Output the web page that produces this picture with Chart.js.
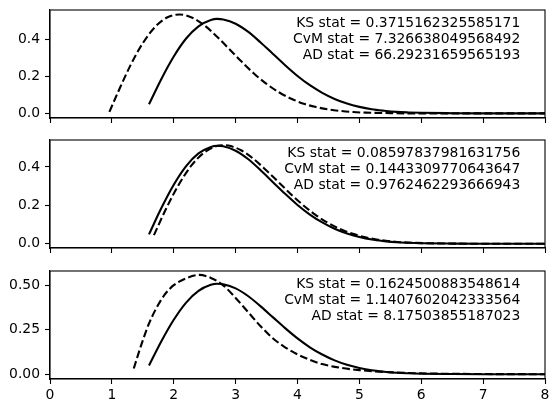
<!DOCTYPE html>
<html>
<head>
<meta charset="utf-8">
<script src="https://cdn.jsdelivr.net/npm/chart.js@4.4.1/dist/chart.umd.min.js"></script>
<style>
  html, body { margin: 0; padding: 0; background: #fff; }
  #wrap { position: relative; width: 560px; height: 413px; }
  canvas { position: absolute; left: 0; }
</style>
</head>
<body>
<div id="wrap">
  <canvas id="p1" width="560" height="130" style="top:0px;width:560px;height:130px"></canvas>
  <canvas id="p2" width="560" height="130" style="top:130px;width:560px;height:130px"></canvas>
  <canvas id="p3" width="560" height="153" style="top:260px;width:560px;height:153px"></canvas>
</div>
<script>
  // shared x axis
  const xTicks = [0, 1, 2, 3, 4, 5, 6, 7, 8];

  // reference density (solid, same in every panel)
  const trueX = [1.6, 1.8, 2.0, 2.2, 2.4, 2.6, 2.7, 2.8, 3.0, 3.2, 3.4, 3.6, 3.8, 4.0, 4.2, 4.4, 4.6, 4.8, 5.0, 5.2, 5.4, 5.6, 5.8, 6.0, 6.5, 7.0, 7.5, 8.0];
  const trueY = [0.049, 0.186, 0.307, 0.404, 0.470, 0.504, 0.510, 0.507, 0.484, 0.441, 0.384, 0.322, 0.260, 0.202, 0.152, 0.111, 0.078, 0.053, 0.035, 0.022, 0.014, 0.008, 0.005, 0.003, 0.001, 0.000, 0.000, 0.000];

  // fitted densities (dashed)
  const fit1X = [0.96, 1.1, 1.3, 1.5, 1.7, 1.9, 2.1, 2.3, 2.5, 2.7, 2.9, 3.1, 3.3, 3.5, 3.7, 3.9, 4.1, 4.3, 4.5, 4.7, 4.9, 5.1, 5.4, 5.8, 6.5, 7.0, 8.0];
  const fit1Y = [0.008, 0.115, 0.259, 0.379, 0.467, 0.519, 0.534, 0.516, 0.474, 0.414, 0.346, 0.278, 0.214, 0.159, 0.114, 0.079, 0.052, 0.034, 0.021, 0.013, 0.007, 0.004, 0.002, 0.000, 0.000, 0.000, 0.000];

  const fit2X = [1.68, 1.88, 2.08, 2.28, 2.48, 2.68, 2.78, 2.88, 3.08, 3.28, 3.48, 3.68, 3.88, 4.08, 4.28, 4.48, 4.68, 4.88, 5.08, 5.28, 5.48, 5.68, 5.88, 6.08, 6.5, 7.0, 7.5, 8.0];
  const fit2Y = [0.045, 0.185, 0.307, 0.405, 0.472, 0.507, 0.513, 0.511, 0.488, 0.444, 0.387, 0.325, 0.262, 0.204, 0.153, 0.111, 0.078, 0.053, 0.035, 0.022, 0.014, 0.008, 0.005, 0.003, 0.001, 0.000, 0.000, 0.000];

  const fit3X = [1.354, 1.42, 1.5, 1.6, 1.7, 1.85, 2.0, 2.2, 2.415, 2.6, 2.8, 3.0, 3.2, 3.4, 3.6, 3.8, 4.0, 4.2, 4.4, 4.7, 5.0, 5.4, 6.0, 7.0, 8.0];
  const fit3Y = [0.032, 0.106, 0.191, 0.286, 0.360, 0.447, 0.502, 0.541, 0.560, 0.543, 0.501, 0.430, 0.351, 0.272, 0.203, 0.152, 0.112, 0.081, 0.057, 0.036, 0.023, 0.013, 0.005, 0.001, 0.000];

  // y ticks
  const yTicksA = [0, 0.2, 0.4];
  const yLabelsA = ['0.0', '0.2', '0.4'];
  const yTicksB = [0, 0.25, 0.5];
  const yLabelsB = ['0.00', '0.25', '0.50'];

  // test statistics text
  const stats1 = ['KS stat = 0.3715162325585171', 'CvM stat = 7.326638049568492', 'AD stat = 66.29231659565193'];
  const stats2 = ['KS stat = 0.08597837981631756', 'CvM stat = 0.1443309770643647', 'AD stat = 0.9762462293666943'];
  const stats3 = ['KS stat = 0.1624500883548614', 'CvM stat = 1.1407602042333564', 'AD stat = 8.17503855187023'];

  const FONT = { family: 'DejaVu Sans', size: 13.9 };

  // box round the axes + the stats text in the upper right corner
  const frameAndText = {
    id: 'frameAndText',
    afterDraw(chart, args, opts) {
      const ctx = chart.ctx;
      const a = chart.chartArea;
      ctx.save();
      ctx.strokeStyle = '#000';
      ctx.lineWidth = 1.1;
      ctx.strokeRect(a.left, a.top, a.right - a.left, a.bottom - a.top);
      ctx.font = '13.9px "DejaVu Sans"';
      ctx.fillStyle = '#000';
      ctx.textAlign = 'right';
      ctx.textBaseline = 'middle';
      const x = a.left + 0.95 * (a.right - a.left);
      const y0 = a.top + 0.05 * (a.bottom - a.top) + 8;
      opts.lines.forEach((t, i) => ctx.fillText(t, x, y0 + i * 16.2));
      ctx.restore();
    }
  };

  function toPoints(xs, ys) {
    return xs.map((x, i) => ({ x: x, y: ys[i] }));
  }

  function makePanel(id, fitX, fitY, yMin, yMax, yTicks, yLabels, stats, showX, padTop, xHeight) {
    return new Chart(document.getElementById(id), {
      type: 'line',
      data: {
        datasets: [
          {
            data: toPoints(trueX, trueY),
            borderColor: '#000',
            borderWidth: 2.1,
            pointRadius: 0,
            cubicInterpolationMode: 'monotone',
            fill: false,
            order: 2
          },
          {
            data: toPoints(fitX, fitY),
            borderColor: '#000',
            borderWidth: 2.1,
            borderDash: [7.7, 3.3],
            pointRadius: 0,
            cubicInterpolationMode: 'monotone',
            fill: false,
            order: 1
          }
        ]
      },
      options: {
        responsive: false,
        animation: false,
        layout: { padding: { top: padTop, right: 15, left: 0, bottom: 0 } },
        plugins: {
          legend: { display: false },
          tooltip: { enabled: false },
          frameAndText: { lines: stats }
        },
        scales: {
          x: {
            type: 'linear',
            min: 0,
            max: 8,
            afterBuildTicks: (axis) => { axis.ticks = xTicks.map(v => ({ value: v })); },
            afterFit: (axis) => {
              axis.height = xHeight;
              axis.paddingLeft = 0;
              axis.paddingRight = 0;
            },
            grid: { drawOnChartArea: false, drawTicks: true, tickLength: 5, tickWidth: 1.1, color: '#000' },
            border: { display: true, color: '#000', width: 1.1 },
            ticks: {
              display: showX,
              color: '#000',
              font: FONT,
              padding: 3,
              maxRotation: 0,
              callback: (v) => String(v)
            }
          },
          y: {
            type: 'linear',
            min: yMin,
            max: yMax,
            afterBuildTicks: (axis) => { axis.ticks = yTicks.map(v => ({ value: v })); },
            afterFit: (axis) => {
              axis.width = 50;
              axis.paddingTop = 0;
              axis.paddingBottom = 0;
            },
            grid: { drawOnChartArea: false, drawTicks: true, tickLength: 5, tickWidth: 1.1, color: '#000' },
            border: { display: true, color: '#000', width: 1.1 },
            ticks: {
              color: '#000',
              font: FONT,
              padding: 5,
              callback: (v, i) => yLabels[i]
            }
          }
        }
      },
      plugins: [frameAndText]
    });
  }

  makePanel('p1', fit1X, fit1Y, -0.025, 0.558, yTicksA, yLabelsA, stats1, false, 10, 12);
  makePanel('p2', fit2X, fit2Y, -0.022, 0.540, yTicksA, yLabelsA, stats2, false, 10, 12);
  makePanel('p3', fit3X, fit3Y, -0.027, 0.582, yTicksB, yLabelsB, stats3, true, 11, 34);
</script>
</body>
</html>
